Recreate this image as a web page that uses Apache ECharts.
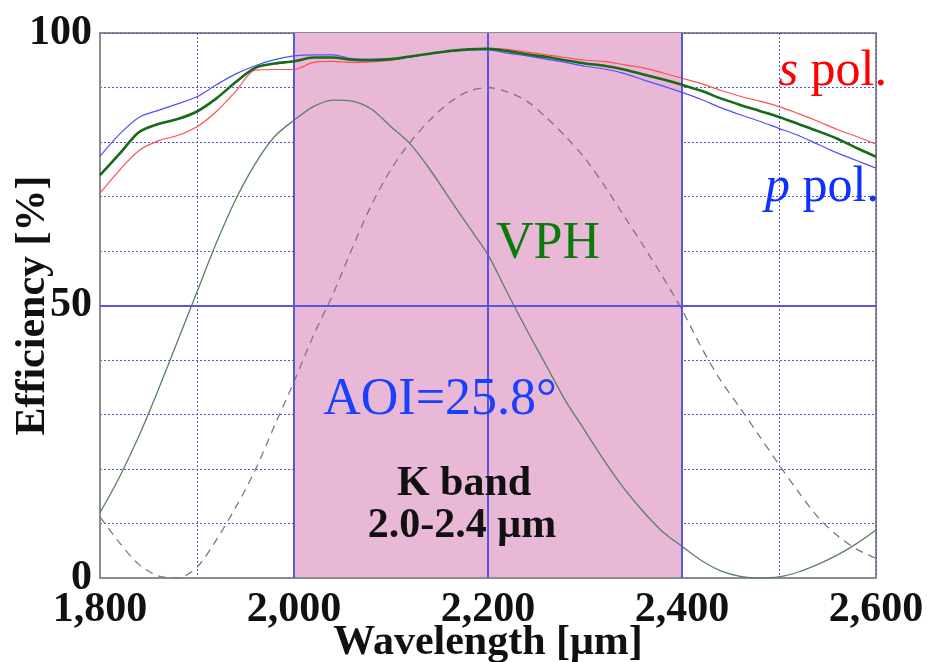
<!DOCTYPE html>
<html>
<head>
<meta charset="utf-8">
<script src="https://cdn.jsdelivr.net/npm/echarts@6/dist/echarts.min.js"></script>
<style>
html,body{margin:0;padding:0;background:#fff;}
#chart{width:928px;height:662px;}
</style>
</head>
<body>
<div id="chart"></div>
<script>
// ---- Data ----
const wavelengths = [1800,1820,1840,1860,1880,1900,1920,1940,1960,1980,2000,2020,2040,2060,2080,2100,2120,2140,2160,2180,2200,2220,2240,2260,2280,2300,2320,2340,2360,2380,2400,2420,2440,2460,2480,2500,2520,2540,2560,2580,2600];
const sPol = [70.6,74.8,78.4,80.2,81.2,82.8,85.6,89.3,93.2,93.3,93.3,94.6,94.8,94.6,94.7,95.0,95.7,96.2,96.7,97.0,97.2,97.0,96.5,96.0,95.5,95.0,94.8,94.2,93.6,92.7,91.7,90.7,89.5,88.4,87.5,86.5,85.2,83.8,82.3,81.0,79.6];
const pPol = [77.4,81.4,84.5,85.8,87.0,88.3,90.5,92.5,94.0,95.1,95.8,96.0,96.0,95.3,95.2,95.2,95.6,96.2,96.6,96.9,96.9,96.3,95.8,95.2,94.6,93.9,93.4,92.6,91.4,90.3,89.1,87.8,86.3,85.0,83.8,82.5,81.2,79.6,78.0,76.6,75.2];
const vphAvg = [73.9,77.8,81.8,83.3,84.2,85.6,88.0,91.0,93.6,94.4,94.8,95.5,95.5,95.1,95.0,95.2,95.7,96.2,96.7,97.0,97.1,96.7,96.1,95.6,95.0,94.4,94.0,93.3,92.4,91.5,90.5,89.4,88.0,86.8,85.7,84.6,83.3,82.0,80.6,78.9,77.3];
const orderSolid = [12,18.5,26,34.5,43.5,52.5,61.5,69.5,76,81,84,86.5,87.7,87.5,86,82.8,79.6,75,69.7,64.5,59.3,52.3,45.5,39.0,32.5,27.0,21.5,16.5,12.2,8.5,5.8,3.2,1.3,0.3,0,0.2,1.1,2.5,4.2,6.3,8.8];
const orderDashed = [11.2,6.5,2.5,0.4,0,2,7,13,19.8,28,36,44.5,52,60.5,68.5,75,80,84,87.2,89.3,90,89.2,87.5,84.5,81,77,72,66.5,61,55.3,49.2,42.3,36.2,31.2,26,20.8,15.8,11.2,7.8,5.3,3.6];
const xTickValues = [1800,2000,2200,2400,2600];
const xTickLabels = ['1,800','2,000','2,200','2,400','2,600'];
const yTickValues = [0,50,100];
const yTickLabels = ['0','50','100'];
const kBand = [2000, 2400];
const solidX = [2000, 2200, 2400];
const solidY = [50];

const serif = '"Liberation Serif","Times New Roman",serif';
const pairs = arr => wavelengths.map((w,i)=>[w, arr[i]]);

const chart = echarts.init(document.getElementById('chart'));
chart.setOption({
  animation: false,
  backgroundColor: '#fff',
  grid: {left: 100, top: 33, right: 52, bottom: 84, show: true, borderColor: '#8c8c8c', borderWidth: 2,
         backgroundColor: 'transparent', containLabel: false, outerBoundsMode: 'none'},
  xAxis: {
    type: 'value', min: 1800, max: 2600, interval: 100, z: 1,
    axisLine: {show: true, lineStyle: {color: '#8c8c8c', width: 2}},
    axisTick: {show: false},
    splitLine: {show: true, lineStyle: {color: '#5a50c8', width: 1, type: [2, 2]}},
    axisLabel: {
      margin: 11, color: '#111', fontFamily: serif, fontWeight: 'bold', fontSize: 42,
      formatter: v => { const i = xTickValues.indexOf(v); return i >= 0 ? xTickLabels[i] : ''; }
    },
    name: 'Wavelength [μm]', nameLocation: 'middle', nameGap: 44, nameMoveOverlap: false,
    nameTextStyle: {color: '#111', fontFamily: serif, fontWeight: 'bold', fontSize: 42}
  },
  yAxis: {
    type: 'value', min: 0, max: 100, interval: 10, z: 1,
    axisLine: {show: true, lineStyle: {color: '#8c8c8c', width: 2}},
    axisTick: {show: false},
    splitLine: {show: true, lineStyle: {color: '#5a50c8', width: 1, type: [2, 2]}},
    axisLabel: {
      margin: 8, color: '#111', fontFamily: serif, fontWeight: 'bold', fontSize: 42, padding: [0,0,4,0],
      formatter: v => { const i = yTickValues.indexOf(v); return i >= 0 ? yTickLabels[i] : ''; }
    },
    name: 'Efficiency [%]', nameLocation: 'middle', nameGap: 46, nameRotate: 90, nameMoveOverlap: false,
    nameTextStyle: {color: '#111', fontFamily: serif, fontWeight: 'bold', fontSize: 42}
  },
  series: [
    {
      type: 'line', data: [], z: 0, silent: true,
      markArea: {silent: true, itemStyle: {color: '#e9b8d6'}, data: [[{xAxis: kBand[0]}, {xAxis: kBand[1]}]]}
    },
    {
      type: 'line', data: [], z: 2, silent: true,
      markLine: {
        silent: true, symbol: 'none', label: {show: false},
        lineStyle: {color: '#5b55dc', width: 2, type: 'solid'},
        data: solidX.map(v => ({xAxis: v})).concat(solidY.map(v => ({yAxis: v})))
      }
    },
    {type: 'line', data: pairs(orderDashed), z: 3, showSymbol: false, smooth: 0.3,
     lineStyle: {color: '#7a7a7a', width: 1.3, type: [8, 6]}},
    {type: 'line', data: pairs(orderSolid), z: 3, showSymbol: false, smooth: 0.3,
     lineStyle: {color: '#5c7f62', width: 1.3}},
    {type: 'line', data: pairs(sPol), z: 4, showSymbol: false, smooth: 0.3,
     lineStyle: {color: '#ff5050', width: 1.2}},
    {type: 'line', data: pairs(pPol), z: 4, showSymbol: false, smooth: 0.3,
     lineStyle: {color: '#5050ff', width: 1.2}},
    {type: 'line', data: pairs(vphAvg), z: 5, showSymbol: false, smooth: 0.3,
     lineStyle: {color: '#176a17', width: 2.6}}
  ],
  graphic: [
    {type: 'text', z: 10, style: {x: 887, y: 72, align: 'right', verticalAlign: 'middle',
      text: '{i|s}{n| pol.}',
      rich: {i: {fontFamily: serif, fontStyle: 'italic', fontSize: 50, fill: '#ff0000'},
             n: {fontFamily: serif, fontSize: 50, fill: '#ff0000'}}}},
    {type: 'text', z: 10, style: {x: 879, y: 188, align: 'right', verticalAlign: 'middle',
      text: '{i|p}{n| pol.}',
      rich: {i: {fontFamily: serif, fontStyle: 'italic', fontSize: 50, fill: '#1030ff'},
             n: {fontFamily: serif, fontSize: 50, fill: '#1030ff'}}}},
    {type: 'text', z: 10, style: {x: 548, y: 244, align: 'center', verticalAlign: 'middle',
      text: 'VPH', fontFamily: serif, fontSize: 52, fill: '#0b7a0b'}},
    {type: 'text', z: 10, style: {x: 440, y: 400, align: 'center', verticalAlign: 'middle',
      text: 'AOI=25.8°', fontFamily: serif, fontSize: 52, fill: '#1a40ff'}},
    {type: 'text', z: 10, style: {x: 464, y: 484, align: 'center', verticalAlign: 'middle',
      text: 'K band', fontFamily: serif, fontWeight: 'bold', fontSize: 42, fill: '#111'}},
    {type: 'text', z: 10, style: {x: 462, y: 526, align: 'center', verticalAlign: 'middle',
      text: '2.0-2.4 μm', fontFamily: serif, fontWeight: 'bold', fontSize: 42, fill: '#111'}}
  ]
});
</script>
</body>
</html>
